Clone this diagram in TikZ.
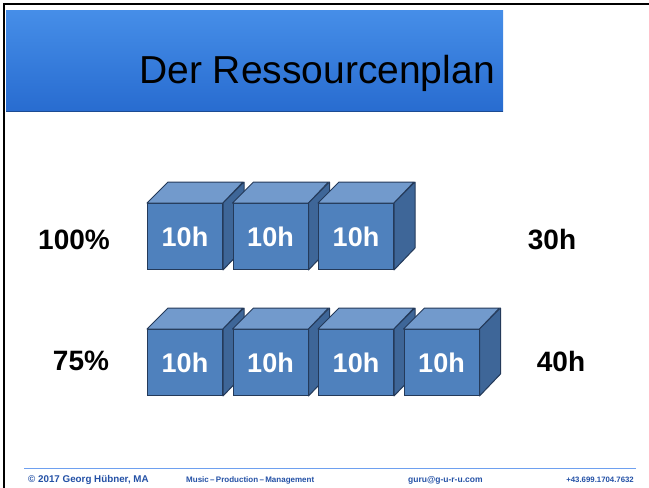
\documentclass[tikz,border=0pt]{standalone}
\usepackage{fontspec}
\setmainfont{Liberation Sans}
\usetikzlibrary{positioning}
\definecolor{barlight}{RGB}{70,142,232}
\definecolor{bardark}{RGB}{40,108,208}
\definecolor{cubefront}{RGB}{79,129,189}
\definecolor{cubetop}{RGB}{114,154,204}
\definecolor{cubeside}{RGB}{62,102,152}
\definecolor{cubeline}{RGB}{36,58,90}
\definecolor{footblue}{RGB}{35,80,165}
\definecolor{footline}{RGB}{110,160,240}
\tikzset{
    cubebox/.style={
        draw=cubeline,
        fill=cubefront,
        line width=1pt,
        minimum width=75pt,
        minimum height=66pt,
        inner sep=0pt,
        anchor=north west,
        text=white,
        font=\fontsize{27}{27}\selectfont\bfseries
    },
    cubeface/.style={
        draw=cubeline,
        line width=1pt,
        line join=round
    },
    rowlabel/.style={
        font=\fontsize{28}{28}\selectfont\bfseries
    },
    foottext/.style={
        text=footblue,
        anchor=base west,
        inner sep=0pt
    }
}

\begin{document}
\begin{tikzpicture}[x=1pt,y=-1pt]
        \useasboundingbox (0,0) rectangle (649,488);
        % frame lines
        \draw[line width=2.5pt] (4,488) -- (4,4) -- (649,4);

        % title bar
        \shade[top color=barlight, bottom color=bardark] (6,10) rectangle (503,111);
        \draw[bardark!70!black, line width=0.8pt] (6,111) -- (503,111);
        \node[anchor=base east, inner sep=0pt, font=\fontsize{39}{39}\selectfont] (title) at (495,83) {Der Ressourcenplan};

        % first row: 100%
        \foreach \i in {1,2,3}
        {
            \node[cubebox] (a\i) at ({147+85.5*(\i-1)},203) {10h};
            \fill[cubetop, cubeface] (a\i.north west) -- ++(21,-21) -- ++(75,0) -- (a\i.north east) -- cycle;
            \fill[cubeside, cubeface] (a\i.north east) -- ++(21,-21) -- ++(0,66) -- (a\i.south east) -- cycle;
        }
        \node[rowlabel] (pctA) at (74,240) {100\%};
        \node[rowlabel] (sumA) at (552,240) {30h};

        % second row: 75%
        \foreach \i in {1,2,3,4}
        {
            \node[cubebox] (b\i) at ({147+85.5*(\i-1)},329) {10h};
            \fill[cubetop, cubeface] (b\i.north west) -- ++(21,-21) -- ++(75,0) -- (b\i.north east) -- cycle;
            \fill[cubeside, cubeface] (b\i.north east) -- ++(21,-21) -- ++(0,66) -- (b\i.south east) -- cycle;
        }
        \node[rowlabel] (pctB) at (81,361) {75\%};
        \node[rowlabel] (sumB) at (561,361) {40h};

        % footer
        \draw[footline, line width=1pt] (24,468) -- (636,468);
        \node[foottext, font=\fontsize{9.8}{10}\selectfont\bfseries] (copy) at (28,482) {© 2017 Georg Hübner, MA};
        \node[foottext, font=\fontsize{8}{9}\selectfont\bfseries] (motto) at (186,482) {Music\,–\,Production\,–\,Management};
        \node[foottext, font=\fontsize{8.5}{9}\selectfont\bfseries] (mail) at (408,482) {guru@g-u-r-u.com};
        \node[foottext, anchor=base east, font=\fontsize{7.8}{9}\selectfont\bfseries] (phone) at (634,482) {+43.699.1704.7632};
    \end{tikzpicture}
\end{document}
